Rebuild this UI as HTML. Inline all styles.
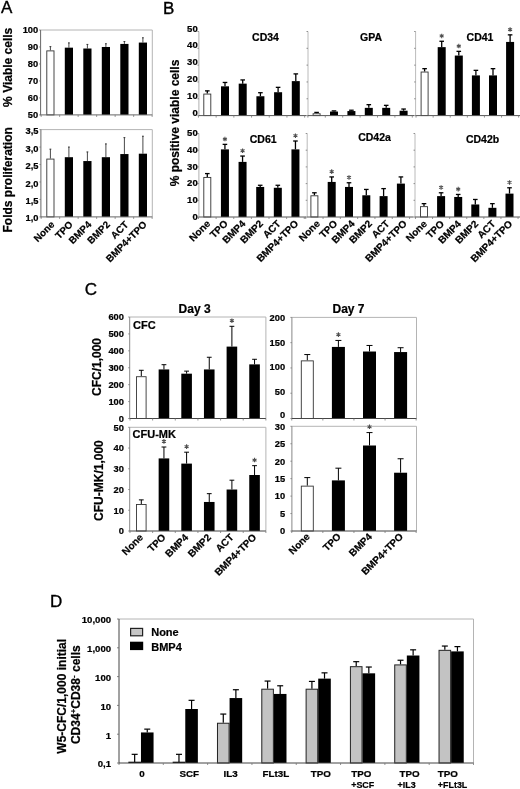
<!DOCTYPE html>
<html><head><meta charset="utf-8"><style>
html,body{margin:0;padding:0;background:#fff;}
svg{display:block;}
text{font-family:"Liberation Sans",sans-serif;}
</style></head><body>
<svg width="520" height="789" viewBox="0 0 520 789">
<defs><filter id="soft" x="0" y="0" width="100%" height="100%" filterUnits="userSpaceOnUse"><feGaussianBlur stdDeviation="0.35"/></filter></defs>
<rect x="0" y="0" width="520" height="789" fill="#fff"/>
<g filter="url(#soft)">
<rect x="0" y="0" width="520" height="789" fill="#fff"/>
<text transform="translate(1.10 13.30)" font-size="17" font-weight="normal" text-anchor="start" fill="#000" stroke="#000" stroke-width="0.35">A</text>
<line x1="40.60" y1="30.00" x2="152.30" y2="30.00" stroke="#b4b4b4" stroke-width="1"/>
<line x1="152.30" y1="30.00" x2="152.30" y2="114.90" stroke="#b4b4b4" stroke-width="1"/>
<line x1="50.40" y1="50.38" x2="50.40" y2="46.64" stroke="#333" stroke-width="0.9"/>
<line x1="49.50" y1="46.64" x2="51.30" y2="46.64" stroke="#333" stroke-width="1"/>
<rect x="46.80" y="50.88" width="7.20" height="64.02" fill="#fff" stroke="#333" stroke-width="0.9"/>
<line x1="68.90" y1="47.66" x2="68.90" y2="42.90" stroke="#333" stroke-width="0.9"/>
<line x1="68.00" y1="42.90" x2="69.80" y2="42.90" stroke="#333" stroke-width="1"/>
<rect x="64.80" y="47.66" width="8.20" height="67.24" fill="#000" stroke="none" stroke-width="0"/>
<line x1="87.40" y1="48.51" x2="87.40" y2="44.43" stroke="#333" stroke-width="0.9"/>
<line x1="86.50" y1="44.43" x2="88.30" y2="44.43" stroke="#333" stroke-width="1"/>
<rect x="83.30" y="48.51" width="8.20" height="66.39" fill="#000" stroke="none" stroke-width="0"/>
<line x1="105.90" y1="46.98" x2="105.90" y2="43.75" stroke="#333" stroke-width="0.9"/>
<line x1="105.00" y1="43.75" x2="106.80" y2="43.75" stroke="#333" stroke-width="1"/>
<rect x="101.80" y="46.98" width="8.20" height="67.92" fill="#000" stroke="none" stroke-width="0"/>
<line x1="124.40" y1="43.92" x2="124.40" y2="41.55" stroke="#333" stroke-width="0.9"/>
<line x1="123.50" y1="41.55" x2="125.30" y2="41.55" stroke="#333" stroke-width="1"/>
<rect x="120.30" y="43.92" width="8.20" height="70.98" fill="#000" stroke="none" stroke-width="0"/>
<line x1="142.90" y1="42.57" x2="142.90" y2="37.81" stroke="#333" stroke-width="0.9"/>
<line x1="142.00" y1="37.81" x2="143.80" y2="37.81" stroke="#333" stroke-width="1"/>
<rect x="138.80" y="42.57" width="8.20" height="72.33" fill="#000" stroke="none" stroke-width="0"/>
<line x1="40.60" y1="30.00" x2="40.60" y2="115.40" stroke="#666" stroke-width="1"/>
<line x1="40.60" y1="114.90" x2="152.30" y2="114.90" stroke="#666" stroke-width="1"/>
<line x1="39.10" y1="30.00" x2="40.60" y2="30.00" stroke="#777" stroke-width="0.8"/>
<text transform="translate(38.20 32.93)" font-size="9.3" font-weight="bold" text-anchor="end" fill="#000" stroke="#000" stroke-width="0.22">100</text>
<line x1="39.10" y1="46.98" x2="40.60" y2="46.98" stroke="#777" stroke-width="0.8"/>
<text transform="translate(38.20 49.91)" font-size="9.3" font-weight="bold" text-anchor="end" fill="#000" stroke="#000" stroke-width="0.22">90</text>
<line x1="39.10" y1="63.96" x2="40.60" y2="63.96" stroke="#777" stroke-width="0.8"/>
<text transform="translate(38.20 66.89)" font-size="9.3" font-weight="bold" text-anchor="end" fill="#000" stroke="#000" stroke-width="0.22">80</text>
<line x1="39.10" y1="80.94" x2="40.60" y2="80.94" stroke="#777" stroke-width="0.8"/>
<text transform="translate(38.20 83.87)" font-size="9.3" font-weight="bold" text-anchor="end" fill="#000" stroke="#000" stroke-width="0.22">70</text>
<line x1="39.10" y1="97.92" x2="40.60" y2="97.92" stroke="#777" stroke-width="0.8"/>
<text transform="translate(38.20 100.85)" font-size="9.3" font-weight="bold" text-anchor="end" fill="#000" stroke="#000" stroke-width="0.22">60</text>
<line x1="39.10" y1="114.90" x2="40.60" y2="114.90" stroke="#777" stroke-width="0.8"/>
<text transform="translate(38.20 117.83)" font-size="9.3" font-weight="bold" text-anchor="end" fill="#000" stroke="#000" stroke-width="0.22">50</text>
<line x1="41.15" y1="114.90" x2="41.15" y2="116.90" stroke="#777" stroke-width="0.8"/>
<line x1="59.65" y1="114.90" x2="59.65" y2="116.90" stroke="#777" stroke-width="0.8"/>
<line x1="78.15" y1="114.90" x2="78.15" y2="116.90" stroke="#777" stroke-width="0.8"/>
<line x1="96.65" y1="114.90" x2="96.65" y2="116.90" stroke="#777" stroke-width="0.8"/>
<line x1="115.15" y1="114.90" x2="115.15" y2="116.90" stroke="#777" stroke-width="0.8"/>
<line x1="133.65" y1="114.90" x2="133.65" y2="116.90" stroke="#777" stroke-width="0.8"/>
<line x1="152.15" y1="114.90" x2="152.15" y2="116.90" stroke="#777" stroke-width="0.8"/>
<line x1="40.90" y1="129.60" x2="152.30" y2="129.60" stroke="#b4b4b4" stroke-width="1"/>
<line x1="152.30" y1="129.60" x2="152.30" y2="216.90" stroke="#b4b4b4" stroke-width="1"/>
<line x1="50.40" y1="158.58" x2="50.40" y2="149.16" stroke="#333" stroke-width="0.9"/>
<line x1="49.50" y1="149.16" x2="51.30" y2="149.16" stroke="#333" stroke-width="1"/>
<rect x="46.80" y="159.08" width="7.20" height="57.82" fill="#fff" stroke="#333" stroke-width="0.9"/>
<line x1="68.90" y1="157.19" x2="68.90" y2="147.06" stroke="#333" stroke-width="0.9"/>
<line x1="68.00" y1="147.06" x2="69.80" y2="147.06" stroke="#333" stroke-width="1"/>
<rect x="64.80" y="157.19" width="8.20" height="59.71" fill="#000" stroke="none" stroke-width="0"/>
<line x1="87.40" y1="161.03" x2="87.40" y2="151.95" stroke="#333" stroke-width="0.9"/>
<line x1="86.50" y1="151.95" x2="88.30" y2="151.95" stroke="#333" stroke-width="1"/>
<rect x="83.30" y="161.03" width="8.20" height="55.87" fill="#000" stroke="none" stroke-width="0"/>
<line x1="105.90" y1="157.19" x2="105.90" y2="143.92" stroke="#333" stroke-width="0.9"/>
<line x1="105.00" y1="143.92" x2="106.80" y2="143.92" stroke="#333" stroke-width="1"/>
<rect x="101.80" y="157.19" width="8.20" height="59.71" fill="#000" stroke="none" stroke-width="0"/>
<line x1="124.40" y1="154.04" x2="124.40" y2="137.63" stroke="#333" stroke-width="0.9"/>
<line x1="123.50" y1="137.63" x2="125.30" y2="137.63" stroke="#333" stroke-width="1"/>
<rect x="120.30" y="154.04" width="8.20" height="62.86" fill="#000" stroke="none" stroke-width="0"/>
<line x1="142.90" y1="153.69" x2="142.90" y2="136.23" stroke="#333" stroke-width="0.9"/>
<line x1="142.00" y1="136.23" x2="143.80" y2="136.23" stroke="#333" stroke-width="1"/>
<rect x="138.80" y="153.69" width="8.20" height="63.21" fill="#000" stroke="none" stroke-width="0"/>
<line x1="40.90" y1="129.60" x2="40.90" y2="217.40" stroke="#666" stroke-width="1"/>
<line x1="40.90" y1="216.90" x2="152.30" y2="216.90" stroke="#666" stroke-width="1"/>
<line x1="39.40" y1="129.60" x2="40.90" y2="129.60" stroke="#777" stroke-width="0.8"/>
<text transform="translate(38.50 134.13)" font-size="9.3" font-weight="bold" text-anchor="end" fill="#000" stroke="#000" stroke-width="0.22">3,5</text>
<line x1="39.40" y1="147.06" x2="40.90" y2="147.06" stroke="#777" stroke-width="0.8"/>
<text transform="translate(38.50 151.59)" font-size="9.3" font-weight="bold" text-anchor="end" fill="#000" stroke="#000" stroke-width="0.22">3,0</text>
<line x1="39.40" y1="164.52" x2="40.90" y2="164.52" stroke="#777" stroke-width="0.8"/>
<text transform="translate(38.50 169.05)" font-size="9.3" font-weight="bold" text-anchor="end" fill="#000" stroke="#000" stroke-width="0.22">2,5</text>
<line x1="39.40" y1="181.98" x2="40.90" y2="181.98" stroke="#777" stroke-width="0.8"/>
<text transform="translate(38.50 186.51)" font-size="9.3" font-weight="bold" text-anchor="end" fill="#000" stroke="#000" stroke-width="0.22">2,0</text>
<line x1="39.40" y1="199.44" x2="40.90" y2="199.44" stroke="#777" stroke-width="0.8"/>
<text transform="translate(38.50 203.97)" font-size="9.3" font-weight="bold" text-anchor="end" fill="#000" stroke="#000" stroke-width="0.22">1,5</text>
<line x1="39.40" y1="216.90" x2="40.90" y2="216.90" stroke="#777" stroke-width="0.8"/>
<text transform="translate(38.50 221.43)" font-size="9.3" font-weight="bold" text-anchor="end" fill="#000" stroke="#000" stroke-width="0.22">1,0</text>
<line x1="41.15" y1="216.90" x2="41.15" y2="218.90" stroke="#777" stroke-width="0.8"/>
<line x1="59.65" y1="216.90" x2="59.65" y2="218.90" stroke="#777" stroke-width="0.8"/>
<line x1="78.15" y1="216.90" x2="78.15" y2="218.90" stroke="#777" stroke-width="0.8"/>
<line x1="96.65" y1="216.90" x2="96.65" y2="218.90" stroke="#777" stroke-width="0.8"/>
<line x1="115.15" y1="216.90" x2="115.15" y2="218.90" stroke="#777" stroke-width="0.8"/>
<line x1="133.65" y1="216.90" x2="133.65" y2="218.90" stroke="#777" stroke-width="0.8"/>
<line x1="152.15" y1="216.90" x2="152.15" y2="218.90" stroke="#777" stroke-width="0.8"/>
<text transform="translate(12.20 67.30) rotate(-90)" font-size="12" font-weight="bold" text-anchor="middle" fill="#000" stroke="#000" stroke-width="0.22">% Viable cells</text>
<text transform="translate(11.50 179.80) rotate(-90)" font-size="12" font-weight="bold" text-anchor="middle" fill="#000" stroke="#000" stroke-width="0.22">Folds proliferation</text>
<text transform="translate(55.00 225.20) rotate(-45)" font-size="9.8" font-weight="bold" text-anchor="end" fill="#000" stroke="#000" stroke-width="0.22">None</text>
<text transform="translate(73.50 225.20) rotate(-45)" font-size="9.8" font-weight="bold" text-anchor="end" fill="#000" stroke="#000" stroke-width="0.22">TPO</text>
<text transform="translate(92.00 225.20) rotate(-45)" font-size="9.8" font-weight="bold" text-anchor="end" fill="#000" stroke="#000" stroke-width="0.22">BMP4</text>
<text transform="translate(110.50 225.20) rotate(-45)" font-size="9.8" font-weight="bold" text-anchor="end" fill="#000" stroke="#000" stroke-width="0.22">BMP2</text>
<text transform="translate(129.00 225.20) rotate(-45)" font-size="9.8" font-weight="bold" text-anchor="end" fill="#000" stroke="#000" stroke-width="0.22">ACT</text>
<text transform="translate(147.50 225.20) rotate(-45)" font-size="9.8" font-weight="bold" text-anchor="end" fill="#000" stroke="#000" stroke-width="0.22">BMP4+TPO</text>
<text transform="translate(163.00 13.60)" font-size="17" font-weight="normal" text-anchor="start" fill="#000" stroke="#000" stroke-width="0.35">B</text>
<text transform="translate(179.30 123.00) rotate(-90)" font-size="12" font-weight="bold" text-anchor="middle" fill="#000" stroke="#000" stroke-width="0.22">% positive viable cells</text>
<line x1="207.30" y1="93.57" x2="207.30" y2="90.87" stroke="#000" stroke-width="1.3"/>
<line x1="205.00" y1="90.87" x2="209.60" y2="90.87" stroke="#000" stroke-width="1.3"/>
<rect x="203.80" y="94.07" width="7.00" height="21.53" fill="#fff" stroke="#333" stroke-width="0.9"/>
<line x1="225.00" y1="86.33" x2="225.00" y2="82.46" stroke="#000" stroke-width="1.3"/>
<line x1="222.70" y1="82.46" x2="227.30" y2="82.46" stroke="#000" stroke-width="1.3"/>
<rect x="221.00" y="86.33" width="8.00" height="29.27" fill="#000" stroke="none" stroke-width="0"/>
<line x1="242.70" y1="83.64" x2="242.70" y2="79.94" stroke="#000" stroke-width="1.3"/>
<line x1="240.40" y1="79.94" x2="245.00" y2="79.94" stroke="#000" stroke-width="1.3"/>
<rect x="238.70" y="83.64" width="8.00" height="31.96" fill="#000" stroke="none" stroke-width="0"/>
<line x1="260.40" y1="96.26" x2="260.40" y2="92.72" stroke="#000" stroke-width="1.3"/>
<line x1="258.10" y1="92.72" x2="262.70" y2="92.72" stroke="#000" stroke-width="1.3"/>
<rect x="256.40" y="96.26" width="8.00" height="19.34" fill="#000" stroke="none" stroke-width="0"/>
<line x1="278.10" y1="92.22" x2="278.10" y2="87.34" stroke="#000" stroke-width="1.3"/>
<line x1="275.80" y1="87.34" x2="280.40" y2="87.34" stroke="#000" stroke-width="1.3"/>
<rect x="274.10" y="92.22" width="8.00" height="23.38" fill="#000" stroke="none" stroke-width="0"/>
<line x1="295.80" y1="81.12" x2="295.80" y2="73.89" stroke="#000" stroke-width="1.3"/>
<line x1="293.50" y1="73.89" x2="298.10" y2="73.89" stroke="#000" stroke-width="1.3"/>
<rect x="291.80" y="81.12" width="8.00" height="34.48" fill="#000" stroke="none" stroke-width="0"/>
<line x1="198.90" y1="31.50" x2="198.90" y2="116.10" stroke="#999" stroke-width="0.8"/>
<line x1="198.90" y1="115.60" x2="306.50" y2="115.60" stroke="#555" stroke-width="1"/>
<line x1="197.40" y1="31.50" x2="198.90" y2="31.50" stroke="#777" stroke-width="0.8"/>
<text transform="translate(197.70 31.60)" font-size="9.5" font-weight="bold" text-anchor="end" fill="#000" stroke="#000" stroke-width="0.22">50</text>
<line x1="197.40" y1="48.32" x2="198.90" y2="48.32" stroke="#777" stroke-width="0.8"/>
<text transform="translate(197.70 48.42)" font-size="9.5" font-weight="bold" text-anchor="end" fill="#000" stroke="#000" stroke-width="0.22">40</text>
<line x1="197.40" y1="65.14" x2="198.90" y2="65.14" stroke="#777" stroke-width="0.8"/>
<text transform="translate(197.70 65.24)" font-size="9.5" font-weight="bold" text-anchor="end" fill="#000" stroke="#000" stroke-width="0.22">30</text>
<line x1="197.40" y1="81.96" x2="198.90" y2="81.96" stroke="#777" stroke-width="0.8"/>
<text transform="translate(197.70 82.06)" font-size="9.5" font-weight="bold" text-anchor="end" fill="#000" stroke="#000" stroke-width="0.22">20</text>
<line x1="197.40" y1="98.78" x2="198.90" y2="98.78" stroke="#777" stroke-width="0.8"/>
<text transform="translate(197.70 98.88)" font-size="9.5" font-weight="bold" text-anchor="end" fill="#000" stroke="#000" stroke-width="0.22">10</text>
<line x1="197.40" y1="115.60" x2="198.90" y2="115.60" stroke="#777" stroke-width="0.8"/>
<text transform="translate(197.70 115.70)" font-size="9.5" font-weight="bold" text-anchor="end" fill="#000" stroke="#000" stroke-width="0.22">0</text>
<line x1="198.45" y1="115.60" x2="198.45" y2="117.60" stroke="#777" stroke-width="0.8"/>
<line x1="216.15" y1="115.60" x2="216.15" y2="117.60" stroke="#777" stroke-width="0.8"/>
<line x1="233.85" y1="115.60" x2="233.85" y2="117.60" stroke="#777" stroke-width="0.8"/>
<line x1="251.55" y1="115.60" x2="251.55" y2="117.60" stroke="#777" stroke-width="0.8"/>
<line x1="269.25" y1="115.60" x2="269.25" y2="117.60" stroke="#777" stroke-width="0.8"/>
<line x1="286.95" y1="115.60" x2="286.95" y2="117.60" stroke="#777" stroke-width="0.8"/>
<line x1="304.65" y1="115.60" x2="304.65" y2="117.60" stroke="#777" stroke-width="0.8"/>
<text transform="translate(265.50 41.20)" font-size="10.5" font-weight="bold" text-anchor="middle" fill="#000" stroke="#000" stroke-width="0.22">CD34</text>
<line x1="316.60" y1="113.25" x2="316.60" y2="112.40" stroke="#000" stroke-width="1.3"/>
<line x1="314.30" y1="112.40" x2="318.90" y2="112.40" stroke="#000" stroke-width="1.3"/>
<rect x="313.10" y="113.75" width="7.00" height="1.85" fill="#fff" stroke="#333" stroke-width="0.9"/>
<line x1="334.00" y1="111.56" x2="334.00" y2="110.89" stroke="#000" stroke-width="1.3"/>
<line x1="331.70" y1="110.89" x2="336.30" y2="110.89" stroke="#000" stroke-width="1.3"/>
<rect x="330.00" y="111.56" width="8.00" height="4.04" fill="#000" stroke="none" stroke-width="0"/>
<line x1="351.40" y1="111.06" x2="351.40" y2="110.22" stroke="#000" stroke-width="1.3"/>
<line x1="349.10" y1="110.22" x2="353.70" y2="110.22" stroke="#000" stroke-width="1.3"/>
<rect x="347.40" y="111.06" width="8.00" height="4.54" fill="#000" stroke="none" stroke-width="0"/>
<line x1="368.80" y1="107.86" x2="368.80" y2="104.67" stroke="#000" stroke-width="1.3"/>
<line x1="366.50" y1="104.67" x2="371.10" y2="104.67" stroke="#000" stroke-width="1.3"/>
<rect x="364.80" y="107.86" width="8.00" height="7.74" fill="#000" stroke="none" stroke-width="0"/>
<line x1="386.20" y1="107.86" x2="386.20" y2="105.34" stroke="#000" stroke-width="1.3"/>
<line x1="383.90" y1="105.34" x2="388.50" y2="105.34" stroke="#000" stroke-width="1.3"/>
<rect x="382.20" y="107.86" width="8.00" height="7.74" fill="#000" stroke="none" stroke-width="0"/>
<line x1="403.60" y1="110.72" x2="403.60" y2="109.04" stroke="#000" stroke-width="1.3"/>
<line x1="401.30" y1="109.04" x2="405.90" y2="109.04" stroke="#000" stroke-width="1.3"/>
<rect x="399.60" y="110.72" width="8.00" height="4.88" fill="#000" stroke="none" stroke-width="0"/>
<line x1="308.00" y1="31.50" x2="308.00" y2="116.10" stroke="#a8a8a8" stroke-width="0.8"/>
<line x1="308.00" y1="115.60" x2="414.00" y2="115.60" stroke="#555" stroke-width="1"/>
<line x1="306.50" y1="31.50" x2="308.00" y2="31.50" stroke="#777" stroke-width="0.8"/>
<line x1="306.50" y1="48.32" x2="308.00" y2="48.32" stroke="#777" stroke-width="0.8"/>
<line x1="306.50" y1="65.14" x2="308.00" y2="65.14" stroke="#777" stroke-width="0.8"/>
<line x1="306.50" y1="81.96" x2="308.00" y2="81.96" stroke="#777" stroke-width="0.8"/>
<line x1="306.50" y1="98.78" x2="308.00" y2="98.78" stroke="#777" stroke-width="0.8"/>
<line x1="306.50" y1="115.60" x2="308.00" y2="115.60" stroke="#777" stroke-width="0.8"/>
<line x1="307.90" y1="115.60" x2="307.90" y2="117.60" stroke="#777" stroke-width="0.8"/>
<line x1="325.30" y1="115.60" x2="325.30" y2="117.60" stroke="#777" stroke-width="0.8"/>
<line x1="342.70" y1="115.60" x2="342.70" y2="117.60" stroke="#777" stroke-width="0.8"/>
<line x1="360.10" y1="115.60" x2="360.10" y2="117.60" stroke="#777" stroke-width="0.8"/>
<line x1="377.50" y1="115.60" x2="377.50" y2="117.60" stroke="#777" stroke-width="0.8"/>
<line x1="394.90" y1="115.60" x2="394.90" y2="117.60" stroke="#777" stroke-width="0.8"/>
<line x1="412.30" y1="115.60" x2="412.30" y2="117.60" stroke="#777" stroke-width="0.8"/>
<text transform="translate(371.00 41.20)" font-size="10.5" font-weight="bold" text-anchor="middle" fill="#000" stroke="#000" stroke-width="0.22">GPA</text>
<line x1="424.60" y1="71.53" x2="424.60" y2="68.67" stroke="#000" stroke-width="1.3"/>
<line x1="422.30" y1="68.67" x2="426.90" y2="68.67" stroke="#000" stroke-width="1.3"/>
<rect x="421.10" y="72.03" width="7.00" height="43.57" fill="#fff" stroke="#333" stroke-width="0.9"/>
<line x1="441.70" y1="47.14" x2="441.70" y2="41.26" stroke="#000" stroke-width="1.3"/>
<line x1="439.40" y1="41.26" x2="444.00" y2="41.26" stroke="#000" stroke-width="1.3"/>
<rect x="437.70" y="47.14" width="8.00" height="68.46" fill="#000" stroke="none" stroke-width="0"/>
<path d="M441.70 33.66L441.70 38.26M443.69 34.81L439.71 37.11M443.69 37.11L439.71 34.81" stroke="#505050" stroke-width="1.1" fill="none"/>
<line x1="458.80" y1="55.55" x2="458.80" y2="51.35" stroke="#000" stroke-width="1.3"/>
<line x1="456.50" y1="51.35" x2="461.10" y2="51.35" stroke="#000" stroke-width="1.3"/>
<rect x="454.80" y="55.55" width="8.00" height="60.05" fill="#000" stroke="none" stroke-width="0"/>
<path d="M458.80 43.75L458.80 48.35M460.79 44.90L456.81 47.20M460.79 47.20L456.81 44.90" stroke="#505050" stroke-width="1.1" fill="none"/>
<line x1="475.90" y1="75.40" x2="475.90" y2="70.35" stroke="#000" stroke-width="1.3"/>
<line x1="473.60" y1="70.35" x2="478.20" y2="70.35" stroke="#000" stroke-width="1.3"/>
<rect x="471.90" y="75.40" width="8.00" height="40.20" fill="#000" stroke="none" stroke-width="0"/>
<line x1="493.00" y1="75.40" x2="493.00" y2="68.67" stroke="#000" stroke-width="1.3"/>
<line x1="490.70" y1="68.67" x2="495.30" y2="68.67" stroke="#000" stroke-width="1.3"/>
<rect x="489.00" y="75.40" width="8.00" height="40.20" fill="#000" stroke="none" stroke-width="0"/>
<line x1="510.10" y1="41.93" x2="510.10" y2="34.86" stroke="#000" stroke-width="1.3"/>
<line x1="507.80" y1="34.86" x2="512.40" y2="34.86" stroke="#000" stroke-width="1.3"/>
<rect x="506.10" y="41.93" width="8.00" height="73.67" fill="#000" stroke="none" stroke-width="0"/>
<path d="M510.10 27.26L510.10 31.86M512.09 28.41L508.11 30.71M512.09 30.71L508.11 28.41" stroke="#505050" stroke-width="1.1" fill="none"/>
<line x1="415.60" y1="31.50" x2="415.60" y2="116.10" stroke="#a8a8a8" stroke-width="0.8"/>
<line x1="415.60" y1="115.60" x2="520.00" y2="115.60" stroke="#555" stroke-width="1"/>
<line x1="414.10" y1="31.50" x2="415.60" y2="31.50" stroke="#777" stroke-width="0.8"/>
<line x1="414.10" y1="48.32" x2="415.60" y2="48.32" stroke="#777" stroke-width="0.8"/>
<line x1="414.10" y1="65.14" x2="415.60" y2="65.14" stroke="#777" stroke-width="0.8"/>
<line x1="414.10" y1="81.96" x2="415.60" y2="81.96" stroke="#777" stroke-width="0.8"/>
<line x1="414.10" y1="98.78" x2="415.60" y2="98.78" stroke="#777" stroke-width="0.8"/>
<line x1="414.10" y1="115.60" x2="415.60" y2="115.60" stroke="#777" stroke-width="0.8"/>
<line x1="416.05" y1="115.60" x2="416.05" y2="117.60" stroke="#777" stroke-width="0.8"/>
<line x1="433.15" y1="115.60" x2="433.15" y2="117.60" stroke="#777" stroke-width="0.8"/>
<line x1="450.25" y1="115.60" x2="450.25" y2="117.60" stroke="#777" stroke-width="0.8"/>
<line x1="467.35" y1="115.60" x2="467.35" y2="117.60" stroke="#777" stroke-width="0.8"/>
<line x1="484.45" y1="115.60" x2="484.45" y2="117.60" stroke="#777" stroke-width="0.8"/>
<line x1="501.55" y1="115.60" x2="501.55" y2="117.60" stroke="#777" stroke-width="0.8"/>
<line x1="518.65" y1="115.60" x2="518.65" y2="117.60" stroke="#777" stroke-width="0.8"/>
<text transform="translate(480.00 41.20)" font-size="10.5" font-weight="bold" text-anchor="middle" fill="#000" stroke="#000" stroke-width="0.22">CD41</text>
<line x1="207.30" y1="176.92" x2="207.30" y2="173.58" stroke="#000" stroke-width="1.3"/>
<line x1="205.00" y1="173.58" x2="209.60" y2="173.58" stroke="#000" stroke-width="1.3"/>
<rect x="203.80" y="177.42" width="7.00" height="39.58" fill="#fff" stroke="#333" stroke-width="0.9"/>
<line x1="224.93" y1="149.37" x2="224.93" y2="144.36" stroke="#000" stroke-width="1.3"/>
<line x1="222.63" y1="144.36" x2="227.23" y2="144.36" stroke="#000" stroke-width="1.3"/>
<rect x="220.93" y="149.37" width="8.00" height="67.63" fill="#000" stroke="none" stroke-width="0"/>
<path d="M224.93 136.75L224.93 141.36M226.92 137.91L222.94 140.21M226.92 140.21L222.94 137.91" stroke="#505050" stroke-width="1.1" fill="none"/>
<line x1="242.56" y1="161.89" x2="242.56" y2="156.05" stroke="#000" stroke-width="1.3"/>
<line x1="240.26" y1="156.05" x2="244.86" y2="156.05" stroke="#000" stroke-width="1.3"/>
<rect x="238.56" y="161.89" width="8.00" height="55.11" fill="#000" stroke="none" stroke-width="0"/>
<path d="M242.56 148.44L242.56 153.05M244.55 149.59L240.57 151.90M244.55 151.90L240.57 149.59" stroke="#505050" stroke-width="1.1" fill="none"/>
<line x1="260.19" y1="186.94" x2="260.19" y2="185.27" stroke="#000" stroke-width="1.3"/>
<line x1="257.89" y1="185.27" x2="262.49" y2="185.27" stroke="#000" stroke-width="1.3"/>
<rect x="256.19" y="186.94" width="8.00" height="30.06" fill="#000" stroke="none" stroke-width="0"/>
<line x1="277.82" y1="187.78" x2="277.82" y2="185.27" stroke="#000" stroke-width="1.3"/>
<line x1="275.52" y1="185.27" x2="280.12" y2="185.27" stroke="#000" stroke-width="1.3"/>
<rect x="273.82" y="187.78" width="8.00" height="29.22" fill="#000" stroke="none" stroke-width="0"/>
<line x1="295.45" y1="149.37" x2="295.45" y2="141.01" stroke="#000" stroke-width="1.3"/>
<line x1="293.15" y1="141.01" x2="297.75" y2="141.01" stroke="#000" stroke-width="1.3"/>
<rect x="291.45" y="149.37" width="8.00" height="67.63" fill="#000" stroke="none" stroke-width="0"/>
<path d="M295.45 133.41L295.45 138.01M297.44 134.56L293.46 136.86M297.44 136.86L293.46 134.56" stroke="#505050" stroke-width="1.1" fill="none"/>
<line x1="198.90" y1="133.50" x2="198.90" y2="217.50" stroke="#999" stroke-width="0.8"/>
<line x1="198.90" y1="217.00" x2="306.00" y2="217.00" stroke="#555" stroke-width="1"/>
<line x1="197.40" y1="133.50" x2="198.90" y2="133.50" stroke="#777" stroke-width="0.8"/>
<text transform="translate(197.70 136.10)" font-size="9.5" font-weight="bold" text-anchor="end" fill="#000" stroke="#000" stroke-width="0.22">50</text>
<line x1="197.40" y1="150.20" x2="198.90" y2="150.20" stroke="#777" stroke-width="0.8"/>
<text transform="translate(197.70 152.80)" font-size="9.5" font-weight="bold" text-anchor="end" fill="#000" stroke="#000" stroke-width="0.22">40</text>
<line x1="197.40" y1="166.90" x2="198.90" y2="166.90" stroke="#777" stroke-width="0.8"/>
<text transform="translate(197.70 169.50)" font-size="9.5" font-weight="bold" text-anchor="end" fill="#000" stroke="#000" stroke-width="0.22">30</text>
<line x1="197.40" y1="183.60" x2="198.90" y2="183.60" stroke="#777" stroke-width="0.8"/>
<text transform="translate(197.70 186.20)" font-size="9.5" font-weight="bold" text-anchor="end" fill="#000" stroke="#000" stroke-width="0.22">20</text>
<line x1="197.40" y1="200.30" x2="198.90" y2="200.30" stroke="#777" stroke-width="0.8"/>
<text transform="translate(197.70 202.90)" font-size="9.5" font-weight="bold" text-anchor="end" fill="#000" stroke="#000" stroke-width="0.22">10</text>
<line x1="197.40" y1="217.00" x2="198.90" y2="217.00" stroke="#777" stroke-width="0.8"/>
<text transform="translate(197.70 219.60)" font-size="9.5" font-weight="bold" text-anchor="end" fill="#000" stroke="#000" stroke-width="0.22">0</text>
<line x1="198.49" y1="217.00" x2="198.49" y2="219.00" stroke="#777" stroke-width="0.8"/>
<line x1="216.12" y1="217.00" x2="216.12" y2="219.00" stroke="#777" stroke-width="0.8"/>
<line x1="233.75" y1="217.00" x2="233.75" y2="219.00" stroke="#777" stroke-width="0.8"/>
<line x1="251.38" y1="217.00" x2="251.38" y2="219.00" stroke="#777" stroke-width="0.8"/>
<line x1="269.00" y1="217.00" x2="269.00" y2="219.00" stroke="#777" stroke-width="0.8"/>
<line x1="286.63" y1="217.00" x2="286.63" y2="219.00" stroke="#777" stroke-width="0.8"/>
<line x1="304.26" y1="217.00" x2="304.26" y2="219.00" stroke="#777" stroke-width="0.8"/>
<text transform="translate(263.20 143.30)" font-size="10.5" font-weight="bold" text-anchor="middle" fill="#000" stroke="#000" stroke-width="0.22">CD61</text>
<line x1="314.40" y1="195.29" x2="314.40" y2="192.78" stroke="#000" stroke-width="1.3"/>
<line x1="312.10" y1="192.78" x2="316.70" y2="192.78" stroke="#000" stroke-width="1.3"/>
<rect x="310.90" y="195.79" width="7.00" height="21.21" fill="#fff" stroke="#333" stroke-width="0.9"/>
<line x1="331.70" y1="181.93" x2="331.70" y2="176.92" stroke="#000" stroke-width="1.3"/>
<line x1="329.40" y1="176.92" x2="334.00" y2="176.92" stroke="#000" stroke-width="1.3"/>
<rect x="327.70" y="181.93" width="8.00" height="35.07" fill="#000" stroke="none" stroke-width="0"/>
<path d="M331.70 169.32L331.70 173.92M333.69 170.47L329.71 172.77M333.69 172.77L329.71 170.47" stroke="#505050" stroke-width="1.1" fill="none"/>
<line x1="349.00" y1="186.94" x2="349.00" y2="182.76" stroke="#000" stroke-width="1.3"/>
<line x1="346.70" y1="182.76" x2="351.30" y2="182.76" stroke="#000" stroke-width="1.3"/>
<rect x="345.00" y="186.94" width="8.00" height="30.06" fill="#000" stroke="none" stroke-width="0"/>
<path d="M349.00 175.16L349.00 179.76M350.99 176.31L347.01 178.61M350.99 178.61L347.01 176.31" stroke="#505050" stroke-width="1.1" fill="none"/>
<line x1="366.30" y1="195.29" x2="366.30" y2="189.44" stroke="#000" stroke-width="1.3"/>
<line x1="364.00" y1="189.44" x2="368.60" y2="189.44" stroke="#000" stroke-width="1.3"/>
<rect x="362.30" y="195.29" width="8.00" height="21.71" fill="#000" stroke="none" stroke-width="0"/>
<line x1="383.60" y1="196.12" x2="383.60" y2="188.61" stroke="#000" stroke-width="1.3"/>
<line x1="381.30" y1="188.61" x2="385.90" y2="188.61" stroke="#000" stroke-width="1.3"/>
<rect x="379.60" y="196.12" width="8.00" height="20.88" fill="#000" stroke="none" stroke-width="0"/>
<line x1="400.90" y1="183.60" x2="400.90" y2="176.92" stroke="#000" stroke-width="1.3"/>
<line x1="398.60" y1="176.92" x2="403.20" y2="176.92" stroke="#000" stroke-width="1.3"/>
<rect x="396.90" y="183.60" width="8.00" height="33.40" fill="#000" stroke="none" stroke-width="0"/>
<line x1="307.20" y1="133.50" x2="307.20" y2="217.50" stroke="#a8a8a8" stroke-width="0.8"/>
<line x1="307.20" y1="217.00" x2="413.50" y2="217.00" stroke="#555" stroke-width="1"/>
<line x1="305.70" y1="133.50" x2="307.20" y2="133.50" stroke="#777" stroke-width="0.8"/>
<line x1="305.70" y1="150.20" x2="307.20" y2="150.20" stroke="#777" stroke-width="0.8"/>
<line x1="305.70" y1="166.90" x2="307.20" y2="166.90" stroke="#777" stroke-width="0.8"/>
<line x1="305.70" y1="183.60" x2="307.20" y2="183.60" stroke="#777" stroke-width="0.8"/>
<line x1="305.70" y1="200.30" x2="307.20" y2="200.30" stroke="#777" stroke-width="0.8"/>
<line x1="305.70" y1="217.00" x2="307.20" y2="217.00" stroke="#777" stroke-width="0.8"/>
<line x1="305.75" y1="217.00" x2="305.75" y2="219.00" stroke="#777" stroke-width="0.8"/>
<line x1="323.05" y1="217.00" x2="323.05" y2="219.00" stroke="#777" stroke-width="0.8"/>
<line x1="340.35" y1="217.00" x2="340.35" y2="219.00" stroke="#777" stroke-width="0.8"/>
<line x1="357.65" y1="217.00" x2="357.65" y2="219.00" stroke="#777" stroke-width="0.8"/>
<line x1="374.95" y1="217.00" x2="374.95" y2="219.00" stroke="#777" stroke-width="0.8"/>
<line x1="392.25" y1="217.00" x2="392.25" y2="219.00" stroke="#777" stroke-width="0.8"/>
<line x1="409.55" y1="217.00" x2="409.55" y2="219.00" stroke="#777" stroke-width="0.8"/>
<text transform="translate(374.50 141.00)" font-size="10.5" font-weight="bold" text-anchor="middle" fill="#000" stroke="#000" stroke-width="0.22">CD42a</text>
<line x1="424.00" y1="206.15" x2="424.00" y2="203.64" stroke="#000" stroke-width="1.3"/>
<line x1="421.70" y1="203.64" x2="426.30" y2="203.64" stroke="#000" stroke-width="1.3"/>
<rect x="420.50" y="206.65" width="7.00" height="10.35" fill="#fff" stroke="#333" stroke-width="0.9"/>
<line x1="441.10" y1="196.12" x2="441.10" y2="192.78" stroke="#000" stroke-width="1.3"/>
<line x1="438.80" y1="192.78" x2="443.40" y2="192.78" stroke="#000" stroke-width="1.3"/>
<rect x="437.10" y="196.12" width="8.00" height="20.88" fill="#000" stroke="none" stroke-width="0"/>
<path d="M441.10 185.18L441.10 189.78M443.09 186.33L439.11 188.63M443.09 188.63L439.11 186.33" stroke="#505050" stroke-width="1.1" fill="none"/>
<line x1="458.20" y1="196.96" x2="458.20" y2="194.45" stroke="#000" stroke-width="1.3"/>
<line x1="455.90" y1="194.45" x2="460.50" y2="194.45" stroke="#000" stroke-width="1.3"/>
<rect x="454.20" y="196.96" width="8.00" height="20.04" fill="#000" stroke="none" stroke-width="0"/>
<path d="M458.20 186.85L458.20 191.45M460.19 188.00L456.21 190.30M460.19 190.30L456.21 188.00" stroke="#505050" stroke-width="1.1" fill="none"/>
<line x1="475.30" y1="204.47" x2="475.30" y2="199.47" stroke="#000" stroke-width="1.3"/>
<line x1="473.00" y1="199.47" x2="477.60" y2="199.47" stroke="#000" stroke-width="1.3"/>
<rect x="471.30" y="204.47" width="8.00" height="12.53" fill="#000" stroke="none" stroke-width="0"/>
<line x1="492.40" y1="207.81" x2="492.40" y2="203.64" stroke="#000" stroke-width="1.3"/>
<line x1="490.10" y1="203.64" x2="494.70" y2="203.64" stroke="#000" stroke-width="1.3"/>
<rect x="488.40" y="207.81" width="8.00" height="9.19" fill="#000" stroke="none" stroke-width="0"/>
<line x1="509.50" y1="193.62" x2="509.50" y2="187.78" stroke="#000" stroke-width="1.3"/>
<line x1="507.20" y1="187.78" x2="511.80" y2="187.78" stroke="#000" stroke-width="1.3"/>
<rect x="505.50" y="193.62" width="8.00" height="23.38" fill="#000" stroke="none" stroke-width="0"/>
<path d="M509.50 180.17L509.50 184.78M511.49 181.32L507.51 183.62M511.49 183.62L507.51 181.32" stroke="#505050" stroke-width="1.1" fill="none"/>
<line x1="415.00" y1="133.50" x2="415.00" y2="217.50" stroke="#a8a8a8" stroke-width="0.8"/>
<line x1="415.00" y1="217.00" x2="520.00" y2="217.00" stroke="#555" stroke-width="1"/>
<line x1="413.50" y1="133.50" x2="415.00" y2="133.50" stroke="#777" stroke-width="0.8"/>
<line x1="413.50" y1="150.20" x2="415.00" y2="150.20" stroke="#777" stroke-width="0.8"/>
<line x1="413.50" y1="166.90" x2="415.00" y2="166.90" stroke="#777" stroke-width="0.8"/>
<line x1="413.50" y1="183.60" x2="415.00" y2="183.60" stroke="#777" stroke-width="0.8"/>
<line x1="413.50" y1="200.30" x2="415.00" y2="200.30" stroke="#777" stroke-width="0.8"/>
<line x1="413.50" y1="217.00" x2="415.00" y2="217.00" stroke="#777" stroke-width="0.8"/>
<line x1="415.45" y1="217.00" x2="415.45" y2="219.00" stroke="#777" stroke-width="0.8"/>
<line x1="432.55" y1="217.00" x2="432.55" y2="219.00" stroke="#777" stroke-width="0.8"/>
<line x1="449.65" y1="217.00" x2="449.65" y2="219.00" stroke="#777" stroke-width="0.8"/>
<line x1="466.75" y1="217.00" x2="466.75" y2="219.00" stroke="#777" stroke-width="0.8"/>
<line x1="483.85" y1="217.00" x2="483.85" y2="219.00" stroke="#777" stroke-width="0.8"/>
<line x1="500.95" y1="217.00" x2="500.95" y2="219.00" stroke="#777" stroke-width="0.8"/>
<line x1="518.05" y1="217.00" x2="518.05" y2="219.00" stroke="#777" stroke-width="0.8"/>
<text transform="translate(482.50 143.30)" font-size="10.5" font-weight="bold" text-anchor="middle" fill="#000" stroke="#000" stroke-width="0.22">CD42b</text>
<text transform="translate(210.90 224.30) rotate(-45)" font-size="10" font-weight="bold" text-anchor="end" fill="#000" stroke="#000" stroke-width="0.22">None</text>
<text transform="translate(228.53 224.30) rotate(-45)" font-size="10" font-weight="bold" text-anchor="end" fill="#000" stroke="#000" stroke-width="0.22">TPO</text>
<text transform="translate(246.16 224.30) rotate(-45)" font-size="10" font-weight="bold" text-anchor="end" fill="#000" stroke="#000" stroke-width="0.22">BMP4</text>
<text transform="translate(263.79 224.30) rotate(-45)" font-size="10" font-weight="bold" text-anchor="end" fill="#000" stroke="#000" stroke-width="0.22">BMP2</text>
<text transform="translate(281.42 224.30) rotate(-45)" font-size="10" font-weight="bold" text-anchor="end" fill="#000" stroke="#000" stroke-width="0.22">ACT</text>
<text transform="translate(299.05 224.30) rotate(-45)" font-size="10" font-weight="bold" text-anchor="end" fill="#000" stroke="#000" stroke-width="0.22">BMP4+TPO</text>
<text transform="translate(320.60 224.30) rotate(-45)" font-size="10" font-weight="bold" text-anchor="end" fill="#000" stroke="#000" stroke-width="0.22">None</text>
<text transform="translate(338.00 224.30) rotate(-45)" font-size="10" font-weight="bold" text-anchor="end" fill="#000" stroke="#000" stroke-width="0.22">TPO</text>
<text transform="translate(355.40 224.30) rotate(-45)" font-size="10" font-weight="bold" text-anchor="end" fill="#000" stroke="#000" stroke-width="0.22">BMP4</text>
<text transform="translate(372.80 224.30) rotate(-45)" font-size="10" font-weight="bold" text-anchor="end" fill="#000" stroke="#000" stroke-width="0.22">BMP2</text>
<text transform="translate(390.20 224.30) rotate(-45)" font-size="10" font-weight="bold" text-anchor="end" fill="#000" stroke="#000" stroke-width="0.22">ACT</text>
<text transform="translate(407.60 224.30) rotate(-45)" font-size="10" font-weight="bold" text-anchor="end" fill="#000" stroke="#000" stroke-width="0.22">BMP4+TPO</text>
<text transform="translate(427.60 224.50) rotate(-45)" font-size="10" font-weight="bold" text-anchor="end" fill="#000" stroke="#000" stroke-width="0.22">None</text>
<text transform="translate(444.70 224.50) rotate(-45)" font-size="10" font-weight="bold" text-anchor="end" fill="#000" stroke="#000" stroke-width="0.22">TPO</text>
<text transform="translate(461.80 224.50) rotate(-45)" font-size="10" font-weight="bold" text-anchor="end" fill="#000" stroke="#000" stroke-width="0.22">BMP4</text>
<text transform="translate(478.90 224.50) rotate(-45)" font-size="10" font-weight="bold" text-anchor="end" fill="#000" stroke="#000" stroke-width="0.22">BMP2</text>
<text transform="translate(496.00 224.50) rotate(-45)" font-size="10" font-weight="bold" text-anchor="end" fill="#000" stroke="#000" stroke-width="0.22">ACT</text>
<text transform="translate(513.10 224.50) rotate(-45)" font-size="10" font-weight="bold" text-anchor="end" fill="#000" stroke="#000" stroke-width="0.22">BMP4+TPO</text>
<text transform="translate(84.70 294.80)" font-size="17" font-weight="normal" text-anchor="start" fill="#000" stroke="#000" stroke-width="0.35">C</text>
<text transform="translate(194.60 313.00)" font-size="12" font-weight="bold" text-anchor="middle" fill="#000" stroke="#000" stroke-width="0.22">Day 3</text>
<text transform="translate(348.50 313.00)" font-size="12" font-weight="bold" text-anchor="middle" fill="#000" stroke="#000" stroke-width="0.22">Day 7</text>
<line x1="129.70" y1="317.00" x2="265.90" y2="317.00" stroke="#b4b4b4" stroke-width="1"/>
<line x1="265.90" y1="317.00" x2="265.90" y2="418.50" stroke="#b4b4b4" stroke-width="1"/>
<line x1="141.30" y1="376.21" x2="141.30" y2="370.29" stroke="#000" stroke-width="1.0"/>
<line x1="138.90" y1="370.29" x2="143.70" y2="370.29" stroke="#000" stroke-width="1"/>
<rect x="136.50" y="376.71" width="9.60" height="41.79" fill="#fff" stroke="#333" stroke-width="0.9"/>
<line x1="163.95" y1="369.44" x2="163.95" y2="364.70" stroke="#000" stroke-width="1.0"/>
<line x1="161.55" y1="364.70" x2="166.35" y2="364.70" stroke="#000" stroke-width="1"/>
<rect x="158.65" y="369.44" width="10.60" height="49.06" fill="#000" stroke="none" stroke-width="0"/>
<line x1="186.60" y1="373.67" x2="186.60" y2="371.13" stroke="#000" stroke-width="1.0"/>
<line x1="184.20" y1="371.13" x2="189.00" y2="371.13" stroke="#000" stroke-width="1"/>
<rect x="181.30" y="373.67" width="10.60" height="44.83" fill="#000" stroke="none" stroke-width="0"/>
<line x1="209.25" y1="369.44" x2="209.25" y2="357.26" stroke="#000" stroke-width="1.0"/>
<line x1="206.85" y1="357.26" x2="211.65" y2="357.26" stroke="#000" stroke-width="1"/>
<rect x="203.95" y="369.44" width="10.60" height="49.06" fill="#000" stroke="none" stroke-width="0"/>
<line x1="231.90" y1="346.60" x2="231.90" y2="326.30" stroke="#000" stroke-width="1.0"/>
<line x1="229.50" y1="326.30" x2="234.30" y2="326.30" stroke="#000" stroke-width="1"/>
<rect x="226.60" y="346.60" width="10.60" height="71.90" fill="#000" stroke="none" stroke-width="0"/>
<path d="M231.90 318.40L231.90 323.00M233.89 319.55L229.91 321.85M233.89 321.85L229.91 319.55" stroke="#505050" stroke-width="1.1" fill="none"/>
<line x1="254.55" y1="364.37" x2="254.55" y2="359.29" stroke="#000" stroke-width="1.0"/>
<line x1="252.15" y1="359.29" x2="256.95" y2="359.29" stroke="#000" stroke-width="1"/>
<rect x="249.25" y="364.37" width="10.60" height="54.13" fill="#000" stroke="none" stroke-width="0"/>
<line x1="129.70" y1="317.00" x2="129.70" y2="419.00" stroke="#888" stroke-width="1"/>
<line x1="129.70" y1="418.50" x2="265.90" y2="418.50" stroke="#444" stroke-width="1"/>
<line x1="128.20" y1="317.00" x2="129.70" y2="317.00" stroke="#777" stroke-width="0.8"/>
<text transform="translate(123.90 320.33)" font-size="9.3" font-weight="bold" text-anchor="end" fill="#000" stroke="#000" stroke-width="0.22">600</text>
<line x1="128.20" y1="333.92" x2="129.70" y2="333.92" stroke="#777" stroke-width="0.8"/>
<text transform="translate(123.90 337.25)" font-size="9.3" font-weight="bold" text-anchor="end" fill="#000" stroke="#000" stroke-width="0.22">500</text>
<line x1="128.20" y1="350.83" x2="129.70" y2="350.83" stroke="#777" stroke-width="0.8"/>
<text transform="translate(123.90 354.16)" font-size="9.3" font-weight="bold" text-anchor="end" fill="#000" stroke="#000" stroke-width="0.22">400</text>
<line x1="128.20" y1="367.75" x2="129.70" y2="367.75" stroke="#777" stroke-width="0.8"/>
<text transform="translate(123.90 371.08)" font-size="9.3" font-weight="bold" text-anchor="end" fill="#000" stroke="#000" stroke-width="0.22">300</text>
<line x1="128.20" y1="384.67" x2="129.70" y2="384.67" stroke="#777" stroke-width="0.8"/>
<text transform="translate(123.90 388.00)" font-size="9.3" font-weight="bold" text-anchor="end" fill="#000" stroke="#000" stroke-width="0.22">200</text>
<line x1="128.20" y1="401.58" x2="129.70" y2="401.58" stroke="#777" stroke-width="0.8"/>
<text transform="translate(123.90 404.91)" font-size="9.3" font-weight="bold" text-anchor="end" fill="#000" stroke="#000" stroke-width="0.22">100</text>
<line x1="128.20" y1="418.50" x2="129.70" y2="418.50" stroke="#777" stroke-width="0.8"/>
<text transform="translate(123.90 421.83)" font-size="9.3" font-weight="bold" text-anchor="end" fill="#000" stroke="#000" stroke-width="0.22">0</text>
<line x1="129.98" y1="418.50" x2="129.98" y2="420.50" stroke="#777" stroke-width="0.8"/>
<line x1="152.63" y1="418.50" x2="152.63" y2="420.50" stroke="#777" stroke-width="0.8"/>
<line x1="175.28" y1="418.50" x2="175.28" y2="420.50" stroke="#777" stroke-width="0.8"/>
<line x1="197.93" y1="418.50" x2="197.93" y2="420.50" stroke="#777" stroke-width="0.8"/>
<line x1="220.58" y1="418.50" x2="220.58" y2="420.50" stroke="#777" stroke-width="0.8"/>
<line x1="243.23" y1="418.50" x2="243.23" y2="420.50" stroke="#777" stroke-width="0.8"/>
<line x1="265.88" y1="418.50" x2="265.88" y2="420.50" stroke="#777" stroke-width="0.8"/>
<text transform="translate(133.00 328.70)" font-size="11" font-weight="bold" text-anchor="start" fill="#000" stroke="#000" stroke-width="0.22">CFC</text>
<line x1="129.70" y1="427.30" x2="265.90" y2="427.30" stroke="#b4b4b4" stroke-width="1"/>
<line x1="265.90" y1="427.30" x2="265.90" y2="531.00" stroke="#b4b4b4" stroke-width="1"/>
<line x1="141.30" y1="504.04" x2="141.30" y2="499.89" stroke="#000" stroke-width="1.0"/>
<line x1="138.90" y1="499.89" x2="143.70" y2="499.89" stroke="#000" stroke-width="1"/>
<rect x="136.50" y="504.54" width="9.60" height="26.46" fill="#fff" stroke="#333" stroke-width="0.9"/>
<line x1="163.95" y1="458.41" x2="163.95" y2="447.00" stroke="#000" stroke-width="1.0"/>
<line x1="161.55" y1="447.00" x2="166.35" y2="447.00" stroke="#000" stroke-width="1"/>
<rect x="158.65" y="458.41" width="10.60" height="72.59" fill="#000" stroke="none" stroke-width="0"/>
<path d="M163.95 439.10L163.95 443.70M165.94 440.25L161.96 442.55M165.94 442.55L161.96 440.25" stroke="#505050" stroke-width="1.1" fill="none"/>
<line x1="186.60" y1="463.60" x2="186.60" y2="452.19" stroke="#000" stroke-width="1.0"/>
<line x1="184.20" y1="452.19" x2="189.00" y2="452.19" stroke="#000" stroke-width="1"/>
<rect x="181.30" y="463.60" width="10.60" height="67.40" fill="#000" stroke="none" stroke-width="0"/>
<path d="M186.60 444.29L186.60 448.89M188.59 445.44L184.61 447.74M188.59 447.74L184.61 445.44" stroke="#505050" stroke-width="1.1" fill="none"/>
<line x1="209.25" y1="501.96" x2="209.25" y2="493.67" stroke="#000" stroke-width="1.0"/>
<line x1="206.85" y1="493.67" x2="211.65" y2="493.67" stroke="#000" stroke-width="1"/>
<rect x="203.95" y="501.96" width="10.60" height="29.04" fill="#000" stroke="none" stroke-width="0"/>
<line x1="231.90" y1="489.52" x2="231.90" y2="480.19" stroke="#000" stroke-width="1.0"/>
<line x1="229.50" y1="480.19" x2="234.30" y2="480.19" stroke="#000" stroke-width="1"/>
<rect x="226.60" y="489.52" width="10.60" height="41.48" fill="#000" stroke="none" stroke-width="0"/>
<line x1="254.55" y1="475.00" x2="254.55" y2="465.67" stroke="#000" stroke-width="1.0"/>
<line x1="252.15" y1="465.67" x2="256.95" y2="465.67" stroke="#000" stroke-width="1"/>
<rect x="249.25" y="475.00" width="10.60" height="56.00" fill="#000" stroke="none" stroke-width="0"/>
<path d="M254.55 457.77L254.55 462.37M256.54 458.92L252.56 461.22M256.54 461.22L252.56 458.92" stroke="#505050" stroke-width="1.1" fill="none"/>
<line x1="129.70" y1="427.30" x2="129.70" y2="531.50" stroke="#888" stroke-width="1"/>
<line x1="129.70" y1="531.00" x2="265.90" y2="531.00" stroke="#444" stroke-width="1"/>
<line x1="128.20" y1="427.30" x2="129.70" y2="427.30" stroke="#777" stroke-width="0.8"/>
<text transform="translate(123.90 430.63)" font-size="9.3" font-weight="bold" text-anchor="end" fill="#000" stroke="#000" stroke-width="0.22">50</text>
<line x1="128.20" y1="448.04" x2="129.70" y2="448.04" stroke="#777" stroke-width="0.8"/>
<text transform="translate(123.90 451.37)" font-size="9.3" font-weight="bold" text-anchor="end" fill="#000" stroke="#000" stroke-width="0.22">40</text>
<line x1="128.20" y1="468.78" x2="129.70" y2="468.78" stroke="#777" stroke-width="0.8"/>
<text transform="translate(123.90 472.11)" font-size="9.3" font-weight="bold" text-anchor="end" fill="#000" stroke="#000" stroke-width="0.22">30</text>
<line x1="128.20" y1="489.52" x2="129.70" y2="489.52" stroke="#777" stroke-width="0.8"/>
<text transform="translate(123.90 492.85)" font-size="9.3" font-weight="bold" text-anchor="end" fill="#000" stroke="#000" stroke-width="0.22">20</text>
<line x1="128.20" y1="510.26" x2="129.70" y2="510.26" stroke="#777" stroke-width="0.8"/>
<text transform="translate(123.90 513.59)" font-size="9.3" font-weight="bold" text-anchor="end" fill="#000" stroke="#000" stroke-width="0.22">10</text>
<line x1="128.20" y1="531.00" x2="129.70" y2="531.00" stroke="#777" stroke-width="0.8"/>
<text transform="translate(123.90 534.33)" font-size="9.3" font-weight="bold" text-anchor="end" fill="#000" stroke="#000" stroke-width="0.22">0</text>
<line x1="129.98" y1="531.00" x2="129.98" y2="533.00" stroke="#777" stroke-width="0.8"/>
<line x1="152.63" y1="531.00" x2="152.63" y2="533.00" stroke="#777" stroke-width="0.8"/>
<line x1="175.28" y1="531.00" x2="175.28" y2="533.00" stroke="#777" stroke-width="0.8"/>
<line x1="197.93" y1="531.00" x2="197.93" y2="533.00" stroke="#777" stroke-width="0.8"/>
<line x1="220.58" y1="531.00" x2="220.58" y2="533.00" stroke="#777" stroke-width="0.8"/>
<line x1="243.23" y1="531.00" x2="243.23" y2="533.00" stroke="#777" stroke-width="0.8"/>
<line x1="265.88" y1="531.00" x2="265.88" y2="533.00" stroke="#777" stroke-width="0.8"/>
<text transform="translate(132.60 437.80)" font-size="11" font-weight="bold" text-anchor="start" fill="#000" stroke="#000" stroke-width="0.22">CFU-MK</text>
<text transform="translate(100.60 367.00) rotate(-90)" font-size="12" font-weight="bold" text-anchor="middle" fill="#000" stroke="#000" stroke-width="0.22">CFC/1,000</text>
<text transform="translate(103.00 480.60) rotate(-90)" font-size="12" font-weight="bold" text-anchor="middle" fill="#000" stroke="#000" stroke-width="0.22">CFU-MK/1,000</text>
<text transform="translate(143.70 538.00) rotate(-45)" font-size="10" font-weight="bold" text-anchor="end" fill="#000" stroke="#000" stroke-width="0.22">None</text>
<text transform="translate(166.35 538.00) rotate(-45)" font-size="10" font-weight="bold" text-anchor="end" fill="#000" stroke="#000" stroke-width="0.22">TPO</text>
<text transform="translate(189.00 538.00) rotate(-45)" font-size="10" font-weight="bold" text-anchor="end" fill="#000" stroke="#000" stroke-width="0.22">BMP4</text>
<text transform="translate(211.65 538.00) rotate(-45)" font-size="10" font-weight="bold" text-anchor="end" fill="#000" stroke="#000" stroke-width="0.22">BMP2</text>
<text transform="translate(234.30 538.00) rotate(-45)" font-size="10" font-weight="bold" text-anchor="end" fill="#000" stroke="#000" stroke-width="0.22">ACT</text>
<text transform="translate(256.95 538.00) rotate(-45)" font-size="10" font-weight="bold" text-anchor="end" fill="#000" stroke="#000" stroke-width="0.22">BMP4+TPO</text>
<line x1="291.90" y1="317.40" x2="416.50" y2="317.40" stroke="#b4b4b4" stroke-width="1"/>
<line x1="416.50" y1="317.40" x2="416.50" y2="418.50" stroke="#b4b4b4" stroke-width="1"/>
<line x1="307.30" y1="360.37" x2="307.30" y2="354.55" stroke="#000" stroke-width="1.0"/>
<line x1="304.30" y1="354.55" x2="310.30" y2="354.55" stroke="#000" stroke-width="1"/>
<rect x="301.30" y="360.87" width="12.00" height="57.63" fill="#fff" stroke="#333" stroke-width="0.9"/>
<line x1="338.40" y1="346.92" x2="338.40" y2="340.45" stroke="#000" stroke-width="1.0"/>
<line x1="335.40" y1="340.45" x2="341.40" y2="340.45" stroke="#000" stroke-width="1"/>
<rect x="331.90" y="346.92" width="13.00" height="71.58" fill="#000" stroke="none" stroke-width="0"/>
<path d="M338.40 332.35L338.40 336.95M340.39 333.50L336.41 335.80M340.39 335.80L336.41 333.50" stroke="#505050" stroke-width="1.1" fill="none"/>
<line x1="369.50" y1="351.52" x2="369.50" y2="345.46" stroke="#000" stroke-width="1.0"/>
<line x1="366.50" y1="345.46" x2="372.50" y2="345.46" stroke="#000" stroke-width="1"/>
<rect x="363.00" y="351.52" width="13.00" height="66.98" fill="#000" stroke="none" stroke-width="0"/>
<line x1="400.60" y1="352.03" x2="400.60" y2="347.73" stroke="#000" stroke-width="1.0"/>
<line x1="397.60" y1="347.73" x2="403.60" y2="347.73" stroke="#000" stroke-width="1"/>
<rect x="394.10" y="352.03" width="13.00" height="66.47" fill="#000" stroke="none" stroke-width="0"/>
<line x1="291.90" y1="317.40" x2="291.90" y2="419.00" stroke="#888" stroke-width="1"/>
<line x1="291.90" y1="418.50" x2="416.50" y2="418.50" stroke="#444" stroke-width="1"/>
<line x1="290.40" y1="317.40" x2="291.90" y2="317.40" stroke="#777" stroke-width="0.8"/>
<text transform="translate(285.10 320.73)" font-size="9.3" font-weight="bold" text-anchor="end" fill="#000" stroke="#000" stroke-width="0.22">200</text>
<line x1="290.40" y1="342.67" x2="291.90" y2="342.67" stroke="#777" stroke-width="0.8"/>
<text transform="translate(285.10 345.63)" font-size="9.3" font-weight="bold" text-anchor="end" fill="#000" stroke="#000" stroke-width="0.22">150</text>
<line x1="290.40" y1="367.95" x2="291.90" y2="367.95" stroke="#777" stroke-width="0.8"/>
<text transform="translate(285.10 370.33)" font-size="9.3" font-weight="bold" text-anchor="end" fill="#000" stroke="#000" stroke-width="0.22">100</text>
<line x1="290.40" y1="393.23" x2="291.90" y2="393.23" stroke="#777" stroke-width="0.8"/>
<text transform="translate(285.10 394.83)" font-size="9.3" font-weight="bold" text-anchor="end" fill="#000" stroke="#000" stroke-width="0.22">50</text>
<line x1="290.40" y1="418.50" x2="291.90" y2="418.50" stroke="#777" stroke-width="0.8"/>
<text transform="translate(285.10 417.83)" font-size="9.3" font-weight="bold" text-anchor="end" fill="#000" stroke="#000" stroke-width="0.22">0</text>
<line x1="291.75" y1="418.50" x2="291.75" y2="420.50" stroke="#777" stroke-width="0.8"/>
<line x1="322.85" y1="418.50" x2="322.85" y2="420.50" stroke="#777" stroke-width="0.8"/>
<line x1="353.95" y1="418.50" x2="353.95" y2="420.50" stroke="#777" stroke-width="0.8"/>
<line x1="385.05" y1="418.50" x2="385.05" y2="420.50" stroke="#777" stroke-width="0.8"/>
<line x1="416.15" y1="418.50" x2="416.15" y2="420.50" stroke="#777" stroke-width="0.8"/>
<line x1="291.90" y1="426.30" x2="416.50" y2="426.30" stroke="#b4b4b4" stroke-width="1"/>
<line x1="416.50" y1="426.30" x2="416.50" y2="531.00" stroke="#b4b4b4" stroke-width="1"/>
<line x1="307.30" y1="485.63" x2="307.30" y2="477.60" stroke="#000" stroke-width="1.0"/>
<line x1="304.30" y1="477.60" x2="310.30" y2="477.60" stroke="#000" stroke-width="1"/>
<rect x="301.30" y="486.13" width="12.00" height="44.87" fill="#fff" stroke="#333" stroke-width="0.9"/>
<line x1="338.40" y1="480.39" x2="338.40" y2="468.18" stroke="#000" stroke-width="1.0"/>
<line x1="335.40" y1="468.18" x2="341.40" y2="468.18" stroke="#000" stroke-width="1"/>
<rect x="331.90" y="480.39" width="13.00" height="50.61" fill="#000" stroke="none" stroke-width="0"/>
<line x1="369.50" y1="445.50" x2="369.50" y2="432.58" stroke="#000" stroke-width="1.0"/>
<line x1="366.50" y1="432.58" x2="372.50" y2="432.58" stroke="#000" stroke-width="1"/>
<rect x="363.00" y="445.50" width="13.00" height="85.50" fill="#000" stroke="none" stroke-width="0"/>
<path d="M369.50 424.48L369.50 429.08M371.49 425.63L367.51 427.93M371.49 427.93L367.51 425.63" stroke="#505050" stroke-width="1.1" fill="none"/>
<line x1="400.60" y1="472.72" x2="400.60" y2="458.76" stroke="#000" stroke-width="1.0"/>
<line x1="397.60" y1="458.76" x2="403.60" y2="458.76" stroke="#000" stroke-width="1"/>
<rect x="394.10" y="472.72" width="13.00" height="58.28" fill="#000" stroke="none" stroke-width="0"/>
<line x1="291.90" y1="426.30" x2="291.90" y2="531.50" stroke="#888" stroke-width="1"/>
<line x1="291.90" y1="531.00" x2="416.50" y2="531.00" stroke="#444" stroke-width="1"/>
<line x1="290.40" y1="426.30" x2="291.90" y2="426.30" stroke="#777" stroke-width="0.8"/>
<text transform="translate(285.10 429.63)" font-size="9.3" font-weight="bold" text-anchor="end" fill="#000" stroke="#000" stroke-width="0.22">30</text>
<line x1="290.40" y1="443.75" x2="291.90" y2="443.75" stroke="#777" stroke-width="0.8"/>
<text transform="translate(285.10 447.08)" font-size="9.3" font-weight="bold" text-anchor="end" fill="#000" stroke="#000" stroke-width="0.22">25</text>
<line x1="290.40" y1="461.20" x2="291.90" y2="461.20" stroke="#777" stroke-width="0.8"/>
<text transform="translate(285.10 464.53)" font-size="9.3" font-weight="bold" text-anchor="end" fill="#000" stroke="#000" stroke-width="0.22">20</text>
<line x1="290.40" y1="478.65" x2="291.90" y2="478.65" stroke="#777" stroke-width="0.8"/>
<text transform="translate(285.10 481.98)" font-size="9.3" font-weight="bold" text-anchor="end" fill="#000" stroke="#000" stroke-width="0.22">15</text>
<line x1="290.40" y1="496.10" x2="291.90" y2="496.10" stroke="#777" stroke-width="0.8"/>
<text transform="translate(285.10 499.43)" font-size="9.3" font-weight="bold" text-anchor="end" fill="#000" stroke="#000" stroke-width="0.22">10</text>
<line x1="290.40" y1="513.55" x2="291.90" y2="513.55" stroke="#777" stroke-width="0.8"/>
<text transform="translate(285.10 516.88)" font-size="9.3" font-weight="bold" text-anchor="end" fill="#000" stroke="#000" stroke-width="0.22">5</text>
<line x1="290.40" y1="531.00" x2="291.90" y2="531.00" stroke="#777" stroke-width="0.8"/>
<text transform="translate(285.10 534.33)" font-size="9.3" font-weight="bold" text-anchor="end" fill="#000" stroke="#000" stroke-width="0.22">0</text>
<line x1="291.75" y1="531.00" x2="291.75" y2="533.00" stroke="#777" stroke-width="0.8"/>
<line x1="322.85" y1="531.00" x2="322.85" y2="533.00" stroke="#777" stroke-width="0.8"/>
<line x1="353.95" y1="531.00" x2="353.95" y2="533.00" stroke="#777" stroke-width="0.8"/>
<line x1="385.05" y1="531.00" x2="385.05" y2="533.00" stroke="#777" stroke-width="0.8"/>
<line x1="416.15" y1="531.00" x2="416.15" y2="533.00" stroke="#777" stroke-width="0.8"/>
<text transform="translate(310.50 537.30) rotate(-45)" font-size="10" font-weight="bold" text-anchor="end" fill="#000" stroke="#000" stroke-width="0.22">None</text>
<text transform="translate(341.60 537.30) rotate(-45)" font-size="10" font-weight="bold" text-anchor="end" fill="#000" stroke="#000" stroke-width="0.22">TPO</text>
<text transform="translate(372.70 537.30) rotate(-45)" font-size="10" font-weight="bold" text-anchor="end" fill="#000" stroke="#000" stroke-width="0.22">BMP4</text>
<text transform="translate(403.80 537.30) rotate(-45)" font-size="10" font-weight="bold" text-anchor="end" fill="#000" stroke="#000" stroke-width="0.22">BMP4+TPO</text>
<text transform="translate(50.00 607.00)" font-size="17" font-weight="normal" text-anchor="start" fill="#000" stroke="#000" stroke-width="0.35">D</text>
<line x1="119.00" y1="619.00" x2="473.50" y2="619.00" stroke="#b4b4b4" stroke-width="1"/>
<line x1="473.50" y1="619.00" x2="473.50" y2="763.00" stroke="#b4b4b4" stroke-width="1"/>
<line x1="134.66" y1="763.00" x2="134.66" y2="754.33" stroke="#000" stroke-width="1.2"/>
<line x1="131.66" y1="754.33" x2="137.66" y2="754.33" stroke="#000" stroke-width="1.2"/>
<line x1="128.36" y1="762.40" x2="140.96" y2="762.40" stroke="#000" stroke-width="1.4"/>
<line x1="147.26" y1="732.45" x2="147.26" y2="729.13" stroke="#000" stroke-width="1.2"/>
<line x1="144.26" y1="729.13" x2="150.26" y2="729.13" stroke="#000" stroke-width="1.2"/>
<rect x="140.96" y="732.45" width="12.60" height="30.55" fill="#000" stroke="none" stroke-width="0"/>
<line x1="178.97" y1="763.00" x2="178.97" y2="754.33" stroke="#000" stroke-width="1.2"/>
<line x1="175.97" y1="754.33" x2="181.97" y2="754.33" stroke="#000" stroke-width="1.2"/>
<line x1="172.67" y1="762.40" x2="185.27" y2="762.40" stroke="#000" stroke-width="1.4"/>
<line x1="191.57" y1="709.00" x2="191.57" y2="700.33" stroke="#000" stroke-width="1.2"/>
<line x1="188.57" y1="700.33" x2="194.57" y2="700.33" stroke="#000" stroke-width="1.2"/>
<rect x="185.27" y="709.00" width="12.60" height="54.00" fill="#000" stroke="none" stroke-width="0"/>
<line x1="223.28" y1="722.74" x2="223.28" y2="714.07" stroke="#000" stroke-width="1.2"/>
<line x1="220.28" y1="714.07" x2="226.28" y2="714.07" stroke="#000" stroke-width="1.2"/>
<rect x="217.48" y="723.24" width="11.60" height="39.76" fill="#c3c3c3" stroke="#222" stroke-width="1"/>
<line x1="235.88" y1="698.05" x2="235.88" y2="689.73" stroke="#000" stroke-width="1.2"/>
<line x1="232.88" y1="689.73" x2="238.88" y2="689.73" stroke="#000" stroke-width="1.2"/>
<rect x="229.58" y="698.05" width="12.60" height="64.95" fill="#000" stroke="none" stroke-width="0"/>
<line x1="267.59" y1="688.70" x2="267.59" y2="681.06" stroke="#000" stroke-width="1.2"/>
<line x1="264.59" y1="681.06" x2="270.59" y2="681.06" stroke="#000" stroke-width="1.2"/>
<rect x="261.79" y="689.20" width="11.60" height="73.80" fill="#c3c3c3" stroke="#222" stroke-width="1"/>
<line x1="280.19" y1="693.94" x2="280.19" y2="685.78" stroke="#000" stroke-width="1.2"/>
<line x1="277.19" y1="685.78" x2="283.19" y2="685.78" stroke="#000" stroke-width="1.2"/>
<rect x="273.89" y="693.94" width="12.60" height="69.06" fill="#000" stroke="none" stroke-width="0"/>
<line x1="311.91" y1="688.70" x2="311.91" y2="681.42" stroke="#000" stroke-width="1.2"/>
<line x1="308.91" y1="681.42" x2="314.91" y2="681.42" stroke="#000" stroke-width="1.2"/>
<rect x="306.11" y="689.20" width="11.60" height="73.80" fill="#c3c3c3" stroke="#222" stroke-width="1"/>
<line x1="324.51" y1="678.63" x2="324.51" y2="672.85" stroke="#000" stroke-width="1.2"/>
<line x1="321.51" y1="672.85" x2="327.51" y2="672.85" stroke="#000" stroke-width="1.2"/>
<rect x="318.21" y="678.63" width="12.60" height="84.37" fill="#000" stroke="none" stroke-width="0"/>
<line x1="356.22" y1="666.18" x2="356.22" y2="661.67" stroke="#000" stroke-width="1.2"/>
<line x1="353.22" y1="661.67" x2="359.22" y2="661.67" stroke="#000" stroke-width="1.2"/>
<rect x="350.42" y="666.68" width="11.60" height="96.32" fill="#c3c3c3" stroke="#222" stroke-width="1"/>
<line x1="368.82" y1="673.32" x2="368.82" y2="667.03" stroke="#000" stroke-width="1.2"/>
<line x1="365.82" y1="667.03" x2="371.82" y2="667.03" stroke="#000" stroke-width="1.2"/>
<rect x="362.52" y="673.32" width="12.60" height="89.68" fill="#000" stroke="none" stroke-width="0"/>
<line x1="400.53" y1="664.41" x2="400.53" y2="660.24" stroke="#000" stroke-width="1.2"/>
<line x1="397.53" y1="660.24" x2="403.53" y2="660.24" stroke="#000" stroke-width="1.2"/>
<rect x="394.73" y="664.91" width="11.60" height="98.09" fill="#c3c3c3" stroke="#222" stroke-width="1"/>
<line x1="413.13" y1="655.51" x2="413.13" y2="649.83" stroke="#000" stroke-width="1.2"/>
<line x1="410.13" y1="649.83" x2="416.13" y2="649.83" stroke="#000" stroke-width="1.2"/>
<rect x="406.83" y="655.51" width="12.60" height="107.49" fill="#000" stroke="none" stroke-width="0"/>
<line x1="444.84" y1="649.83" x2="444.84" y2="646.05" stroke="#000" stroke-width="1.2"/>
<line x1="441.84" y1="646.05" x2="447.84" y2="646.05" stroke="#000" stroke-width="1.2"/>
<rect x="439.04" y="650.33" width="11.60" height="112.67" fill="#c3c3c3" stroke="#222" stroke-width="1"/>
<line x1="457.44" y1="651.40" x2="457.44" y2="646.61" stroke="#000" stroke-width="1.2"/>
<line x1="454.44" y1="646.61" x2="460.44" y2="646.61" stroke="#000" stroke-width="1.2"/>
<rect x="451.14" y="651.40" width="12.60" height="111.60" fill="#000" stroke="none" stroke-width="0"/>
<line x1="119.00" y1="619.00" x2="119.00" y2="763.50" stroke="#444" stroke-width="1"/>
<line x1="119.00" y1="763.00" x2="473.50" y2="763.00" stroke="#444" stroke-width="1"/>
<line x1="117.00" y1="619.00" x2="119.00" y2="619.00" stroke="#666" stroke-width="0.8"/>
<text transform="translate(111.10 623.30)" font-size="9.6" font-weight="bold" text-anchor="end" fill="#000" stroke="#000" stroke-width="0.22">10,000</text>
<line x1="117.00" y1="647.80" x2="119.00" y2="647.80" stroke="#666" stroke-width="0.8"/>
<text transform="translate(111.10 652.10)" font-size="9.6" font-weight="bold" text-anchor="end" fill="#000" stroke="#000" stroke-width="0.22">1,000</text>
<line x1="117.00" y1="676.60" x2="119.00" y2="676.60" stroke="#666" stroke-width="0.8"/>
<text transform="translate(111.10 680.90)" font-size="9.6" font-weight="bold" text-anchor="end" fill="#000" stroke="#000" stroke-width="0.22">100</text>
<line x1="117.00" y1="705.40" x2="119.00" y2="705.40" stroke="#666" stroke-width="0.8"/>
<text transform="translate(111.10 709.70)" font-size="9.6" font-weight="bold" text-anchor="end" fill="#000" stroke="#000" stroke-width="0.22">10</text>
<line x1="117.00" y1="734.20" x2="119.00" y2="734.20" stroke="#666" stroke-width="0.8"/>
<text transform="translate(111.10 738.50)" font-size="9.6" font-weight="bold" text-anchor="end" fill="#000" stroke="#000" stroke-width="0.22">1</text>
<line x1="117.00" y1="763.00" x2="119.00" y2="763.00" stroke="#666" stroke-width="0.8"/>
<text transform="translate(111.10 767.30)" font-size="9.6" font-weight="bold" text-anchor="end" fill="#000" stroke="#000" stroke-width="0.22">0,1</text>
<line x1="119.00" y1="763.00" x2="119.00" y2="765.00" stroke="#777" stroke-width="0.8"/>
<line x1="163.31" y1="763.00" x2="163.31" y2="765.00" stroke="#777" stroke-width="0.8"/>
<line x1="207.62" y1="763.00" x2="207.62" y2="765.00" stroke="#777" stroke-width="0.8"/>
<line x1="251.94" y1="763.00" x2="251.94" y2="765.00" stroke="#777" stroke-width="0.8"/>
<line x1="296.25" y1="763.00" x2="296.25" y2="765.00" stroke="#777" stroke-width="0.8"/>
<line x1="340.56" y1="763.00" x2="340.56" y2="765.00" stroke="#777" stroke-width="0.8"/>
<line x1="384.88" y1="763.00" x2="384.88" y2="765.00" stroke="#777" stroke-width="0.8"/>
<line x1="429.19" y1="763.00" x2="429.19" y2="765.00" stroke="#777" stroke-width="0.8"/>
<line x1="473.50" y1="763.00" x2="473.50" y2="765.00" stroke="#777" stroke-width="0.8"/>
<text transform="translate(141.90 776.50)" font-size="9.8" font-weight="bold" text-anchor="middle" fill="#000" stroke="#000" stroke-width="0.22">0</text>
<text transform="translate(189.20 776.50)" font-size="9.8" font-weight="bold" text-anchor="middle" fill="#000" stroke="#000" stroke-width="0.22">SCF</text>
<text transform="translate(230.60 776.50)" font-size="9.8" font-weight="bold" text-anchor="middle" fill="#000" stroke="#000" stroke-width="0.22">IL3</text>
<text transform="translate(275.80 776.50)" font-size="9.8" font-weight="bold" text-anchor="middle" fill="#000" stroke="#000" stroke-width="0.22">FLt3L</text>
<text transform="translate(320.80 776.50)" font-size="9.8" font-weight="bold" text-anchor="middle" fill="#000" stroke="#000" stroke-width="0.22">TPO</text>
<text transform="translate(351.20 776.50)" font-size="9.8" font-weight="bold" text-anchor="start" fill="#000" stroke="#000" stroke-width="0.22">TPO</text>
<text transform="translate(351.20 788.00) scale(0.93 1)" font-size="9.6" font-weight="bold" text-anchor="start" fill="#000" stroke="#000" stroke-width="0.22">+SCF</text>
<text transform="translate(399.40 776.50)" font-size="9.8" font-weight="bold" text-anchor="start" fill="#000" stroke="#000" stroke-width="0.22">TPO</text>
<text transform="translate(397.50 788.00) scale(0.93 1)" font-size="9.6" font-weight="bold" text-anchor="start" fill="#000" stroke="#000" stroke-width="0.22">+IL3</text>
<text transform="translate(437.80 776.50)" font-size="9.8" font-weight="bold" text-anchor="start" fill="#000" stroke="#000" stroke-width="0.22">TPO</text>
<text transform="translate(437.80 788.00) scale(0.93 1)" font-size="9.6" font-weight="bold" text-anchor="start" fill="#000" stroke="#000" stroke-width="0.22">+FLt3L</text>
<rect x="130.60" y="628.40" width="12.00" height="7.40" fill="#c6c6c6" stroke="#222" stroke-width="1.2"/>
<rect x="130.00" y="641.70" width="13.20" height="8.40" fill="#000" stroke="none" stroke-width="0"/>
<text transform="translate(151.20 636.00)" font-size="11" font-weight="bold" text-anchor="start" fill="#000" stroke="#000" stroke-width="0.22">None</text>
<text transform="translate(151.20 650.50)" font-size="11" font-weight="bold" text-anchor="start" fill="#000" stroke="#000" stroke-width="0.22">BMP4</text>
<text transform="translate(66.30 696.30) rotate(-90)" font-size="12" font-weight="bold" text-anchor="middle" fill="#000" stroke="#000" stroke-width="0.22">W5-CFC/1,000 initial</text>
<text transform="translate(80.3 694.7) rotate(-90)" font-size="12" font-weight="bold" text-anchor="middle" stroke="#000" stroke-width="0.25">CD34<tspan font-size="8" dy="-4">+</tspan><tspan dy="4">CD38</tspan><tspan font-size="8" dy="-4">-</tspan><tspan dy="4"> cells</tspan></text>
</g>
</svg></body></html>
